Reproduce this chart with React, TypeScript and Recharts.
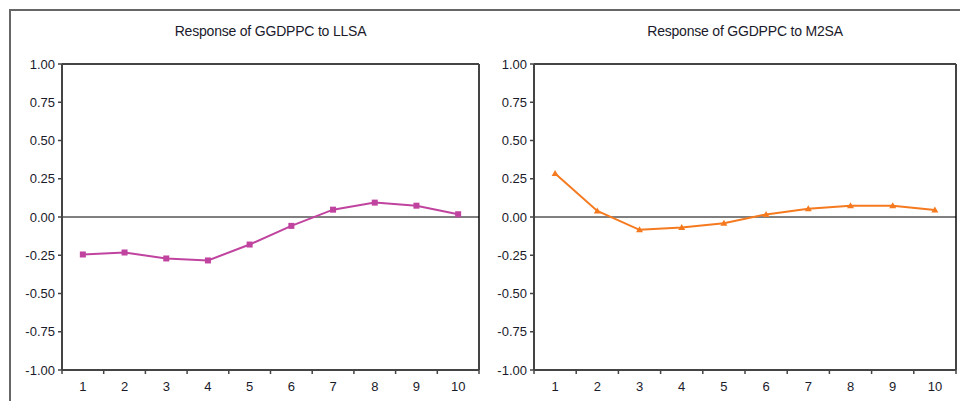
import { LineChart, Line, XAxis, YAxis, ReferenceLine } from 'recharts'

const periods = [1, 2, 3, 4, 5, 6, 7, 8, 9, 10]
const llsaResponse = [-0.245, -0.232, -0.271, -0.284, -0.18, -0.058, 0.048, 0.094, 0.074, 0.018]
const m2saResponse = [0.285, 0.04, -0.084, -0.069, -0.041, 0.017, 0.054, 0.073, 0.073, 0.045]
const yTicks = [-1, -0.75, -0.5, -0.25, 0, 0.25, 0.5, 0.75, 1]
// integer ticks carry the labels, half ticks carry the tick marks between periods
const xTicks = [0.5, 1, 1.5, 2, 2.5, 3, 3.5, 4, 4.5, 5, 5.5, 6, 6.5, 7, 7.5, 8, 8.5, 9, 9.5, 10, 10.5]

const FONT = '"Liberation Sans", Arial, sans-serif'
const FRAME = '#444'

const XTick = (props: any) => {
    const { x, y, payload } = props
    const v = payload.value
    if (Number.isInteger(v)) {
        return (
            <text x={x} y={y + 17} textAnchor="middle" fontSize={13} fill="#1a1a2a" fontFamily={FONT}>
                {v}
            </text>
        )
    }
    return <line x1={x} y1={y - 4} x2={x} y2={y} stroke={FRAME} strokeWidth={1.5} />
}

const SquareDot = (props: any) => {
    const { cx, cy, stroke } = props
    if (cx == null || cy == null) return null
    return <rect x={cx - 3} y={cy - 3} width={6} height={6} fill={stroke} />
}

const TriangleDot = (props: any) => {
    const { cx, cy, stroke } = props
    if (cx == null || cy == null) return null
    return <path d={`M${cx},${cy - 3.5} L${cx + 3.5},${cy + 2.5} L${cx - 3.5},${cy + 2.5} Z`} fill={stroke} />
}

type PanelProps = {
    title: string
    values: number[]
    color: string
    dot: any
    left: number
    width: number
    marginLeft: number
    marginRight: number
}

function Panel({ title, values, color, dot, left, width, marginLeft, marginRight }: PanelProps) {
    const data = periods.map((p, i) => ({ period: p, value: values[i] }))
    const plotLeft = left + marginLeft + 42
    const plotWidth = width - marginLeft - 42 - marginRight
    return (
        <>
            <div
                style={{
                    position: 'absolute',
                    left: plotLeft,
                    width: plotWidth,
                    top: 22,
                    textAlign: 'center',
                    fontFamily: FONT,
                    fontSize: 14,
                    lineHeight: '18px',
                    letterSpacing: -0.2,
                    color: '#1a1a2a',
                }}
            >
                {title}
            </div>
            <div style={{ position: 'absolute', left, top: 0 }}>
                <LineChart
                    width={width}
                    height={401}
                    data={data}
                    margin={{ top: 64, right: marginRight, left: marginLeft, bottom: 0 }}
                >
                    <XAxis
                        dataKey="period"
                        type="number"
                        domain={[0.5, 10.5]}
                        ticks={xTicks}
                        interval={0}
                        height={31}
                        tickSize={4}
                        tickMargin={0}
                        tickLine={false}
                        tick={<XTick />}
                        axisLine={{ stroke: FRAME, strokeWidth: 2 }}
                    />
                    <YAxis
                        type="number"
                        domain={[-1, 1]}
                        ticks={yTicks}
                        interval={0}
                        width={42}
                        tickSize={4}
                        tickMargin={3}
                        tickFormatter={(v: number) => v.toFixed(2)}
                        tick={{ fontSize: 13, fill: '#1a1a2a', fontFamily: FONT }}
                        tickLine={{ stroke: FRAME, strokeWidth: 1.5 }}
                        axisLine={{ stroke: FRAME, strokeWidth: 2 }}
                    />
                    {/* top and right sides of the plot frame */}
                    <ReferenceLine y={1} stroke={FRAME} strokeWidth={2} />
                    <ReferenceLine x={10.5} stroke={FRAME} strokeWidth={2} />
                    <ReferenceLine y={0} stroke="#000" strokeWidth={1} />
                    <Line
                        type="linear"
                        dataKey="value"
                        stroke={color}
                        strokeWidth={2}
                        dot={dot}
                        activeDot={false}
                        isAnimationActive={false}
                    />
                </LineChart>
            </div>
        </>
    )
}

export default function App() {
    return (
        <div style={{ position: 'absolute', left: 0, top: 0, width: 960, height: 401, background: '#fff', overflow: 'hidden' }}>
            <div
                style={{
                    position: 'absolute',
                    left: 9,
                    top: 9,
                    width: 1000,
                    height: 500,
                    borderTop: '2px solid #666',
                    borderLeft: '2px solid #666',
                }}
            />
            <Panel
                title="Response of GGDPPC to LLSA"
                values={llsaResponse}
                color="#C0449F"
                dot={<SquareDot />}
                left={0}
                width={482}
                marginLeft={20}
                marginRight={3}
            />
            <Panel
                title="Response of GGDPPC to M2SA"
                values={m2saResponse}
                color="#F57A1F"
                dot={<TriangleDot />}
                left={480}
                width={480}
                marginLeft={12}
                marginRight={4}
            />
        </div>
    )
}
